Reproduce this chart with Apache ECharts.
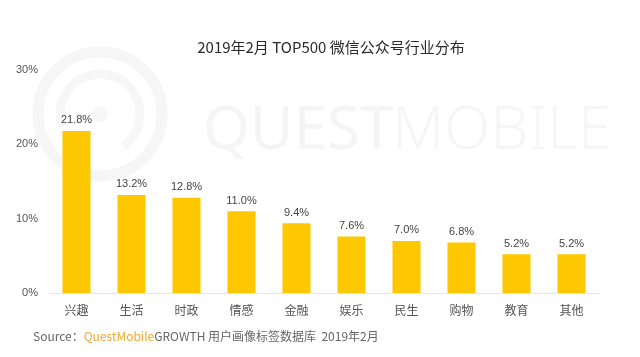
<!DOCTYPE html>
<html><head><meta charset="utf-8">
<script src="https://cdn.jsdelivr.net/npm/echarts@6/dist/echarts.min.js"></script>
<style>html,body{margin:0;padding:0;background:#fff}#c{width:640px;height:357px}</style>
</head><body><div id="c"></div>
<script>
const categories = ['兴趣','生活','时政','情感','金融','娱乐','民生','购物','教育','其他'];
const values = [21.8, 13.2, 12.8, 11.0, 9.4, 7.6, 7.0, 6.8, 5.2, 5.2];
const yTicks = [0, 10, 20, 30];
const titleText = '2019年2月 TOP500 微信公众号行业分布';

const chart = echarts.init(document.getElementById('c'));
chart.setOption({
  animation: false,
  backgroundColor: '#fff',
  title: {
    text: titleText, left: 326, textAlign: 'center', top: 35,
    textStyle: {fontSize: 15, fontWeight: 'normal', color: '#2a2a2a', fontFamily: 'Noto Sans CJK SC'}
  },
  graphic: [
    {type: 'circle', shape: {cx: 100, cy: 114, r: 62}, style: {fill: 'none', stroke: '#f6f6f6', lineWidth: 11}, z: -10},
    {type: 'arc', shape: {cx: 100, cy: 114, r: 40, startAngle: Math.PI * 0.9, endAngle: Math.PI * 2.3}, style: {fill: 'none', stroke: '#f7f7f7', lineWidth: 9}, z: -10},
    {type: 'circle', shape: {cx: 100, cy: 114, r: 8}, style: {fill: '#f7f7f7'}, z: -10},
    {type: 'text', left: 203, top: 102, z: -10, style: {text: 'QUEST', fontSize: 60, fill: '#f5f5f5', fontFamily: 'Noto Sans', fontWeight: 'normal'}},
    {type: 'text', left: 392, top: 102, z: -10, style: {text: 'MOBILE', fontSize: 60, fill: '#f6f6f6', fontFamily: 'Noto Sans', fontWeight: 300}},
    {type: 'text', left: 33, top: 330, style: {rich: {
      a: {fontSize: 12, fill: '#666', fontFamily: 'Noto Sans CJK SC'},
      b: {fontSize: 12, fill: '#f0a830', fontFamily: 'Noto Sans CJK SC'}
    }, text: '{a|Source：}{b|QuestMobile}{a|GROWTH 用户画像标签数据库  2019年2月}'}}
  ],
  grid: {left: 49, right: 41, top: 70, bottom: 64},
  xAxis: {
    type: 'category', data: categories,
    axisLine: {show: true, lineStyle: {color: '#e6e6e6'}},
    axisTick: {show: false},
    axisLabel: {color: '#555', fontSize: 12, margin: 11, fontFamily: 'Noto Sans CJK SC'}
  },
  yAxis: {
    type: 'value', min: yTicks[0], max: yTicks[yTicks.length-1], interval: 10,
    axisLine: {show: false}, axisTick: {show: false},
    splitLine: {show: false},
    axisLabel: {color: '#555', fontSize: 11, margin: 11, formatter: '{value}%', fontFamily: 'Liberation Sans'}
  },
  series: [{
    type: 'bar', data: values, barWidth: '51%',
    itemStyle: {color: '#FDC800'},
    label: {show: true, position: 'top', distance: 5, color: '#444', fontSize: 11, fontFamily: 'Liberation Sans',
      formatter: p => p.value.toFixed(1) + '%'}
  }]
});
</script></body></html>
